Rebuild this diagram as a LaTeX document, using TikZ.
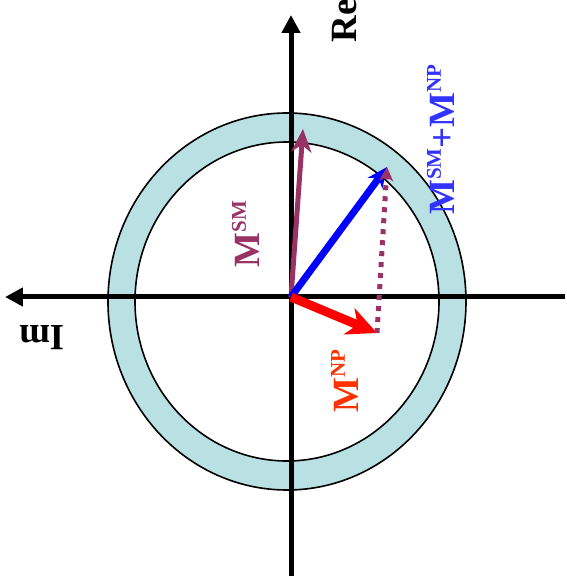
\documentclass[tikz,border=0pt]{standalone}
\usepackage{fontspec}
\setmainfont{Liberation Serif}
\usetikzlibrary{arrows.meta}

\definecolor{smpurple}{RGB}{153,51,102}
\definecolor{sumblue}{RGB}{51,51,255}
\definecolor{npred}{RGB}{255,51,0}
\definecolor{ringcyan}{RGB}{185,224,227}

\newcommand{\supr}[1]{\raisebox{14pt}{\fontsize{21}{21}\selectfont #1}}

\begin{document}
\begin{tikzpicture}[x=1pt, y=1pt,
  axis/.style={line width=5pt, -{Triangle[length=18pt, width=18pt]}},
  ring/.style={line width=1.6pt},
  lbl/.style={font=\fontsize{37}{40}\selectfont\bfseries, inner sep=0pt}
]
  \useasboundingbox (-291,-289) rectangle (275,297);

  % ring of radius
  \filldraw[ring, fill=ringcyan] (-4,-4.5) ellipse [x radius=179, y radius=188.5];
  \filldraw[ring, fill=white]    (-4,-4.5) ellipse [x radius=152, y radius=159.5];

  \coordinate (O)   at (0,0);
  \coordinate (reS) at (0,-279);
  \coordinate (reN) at (0,282);
  \coordinate (imE) at (274,0);
  \coordinate (imW) at (-286,0);
  \coordinate (sm)  at (12,168);
  \coordinate (np)  at (86,-36);
  \coordinate (sum) at (96,130);

  \draw[axis] (reS) -- (reN);
  \draw[axis] (imE) -- (imW);

  \node[lbl, rotate=90]  (re) at (54,276)  {Re};
  \node[lbl, rotate=180] (im) at (-249,-41) {Im};

  % vectors
  \draw[smpurple, line width=5pt, -{Stealth[length=23pt, width=20pt, inset=7pt]}] (O) -- (sm);
  \draw[blue, line width=7pt, -{Stealth[length=20pt, width=18pt, inset=6pt]}] (O) -- (sum);
  \draw[red, line width=9pt, -{Stealth[length=30pt, width=28pt, inset=9pt]}] (O) -- (np);
  \draw[smpurple, line width=5pt, dash pattern=on 5pt off 6pt,
        -{Stealth[length=14pt, width=14pt, inset=4pt]}] (np) -- (sum);

  \node[lbl, rotate=90, text=smpurple] (smlbl)  at (-45,63)    {M\supr{SM}};
  \node[lbl, rotate=90, text=npred]    (nplbl)  at (54,-84)    {M\supr{NP}};
  \node[lbl, rotate=90, text=sumblue]  (sumlbl) at (150,157.5) {M\supr{SM}+M\supr{NP}};
\end{tikzpicture}
\end{document}
